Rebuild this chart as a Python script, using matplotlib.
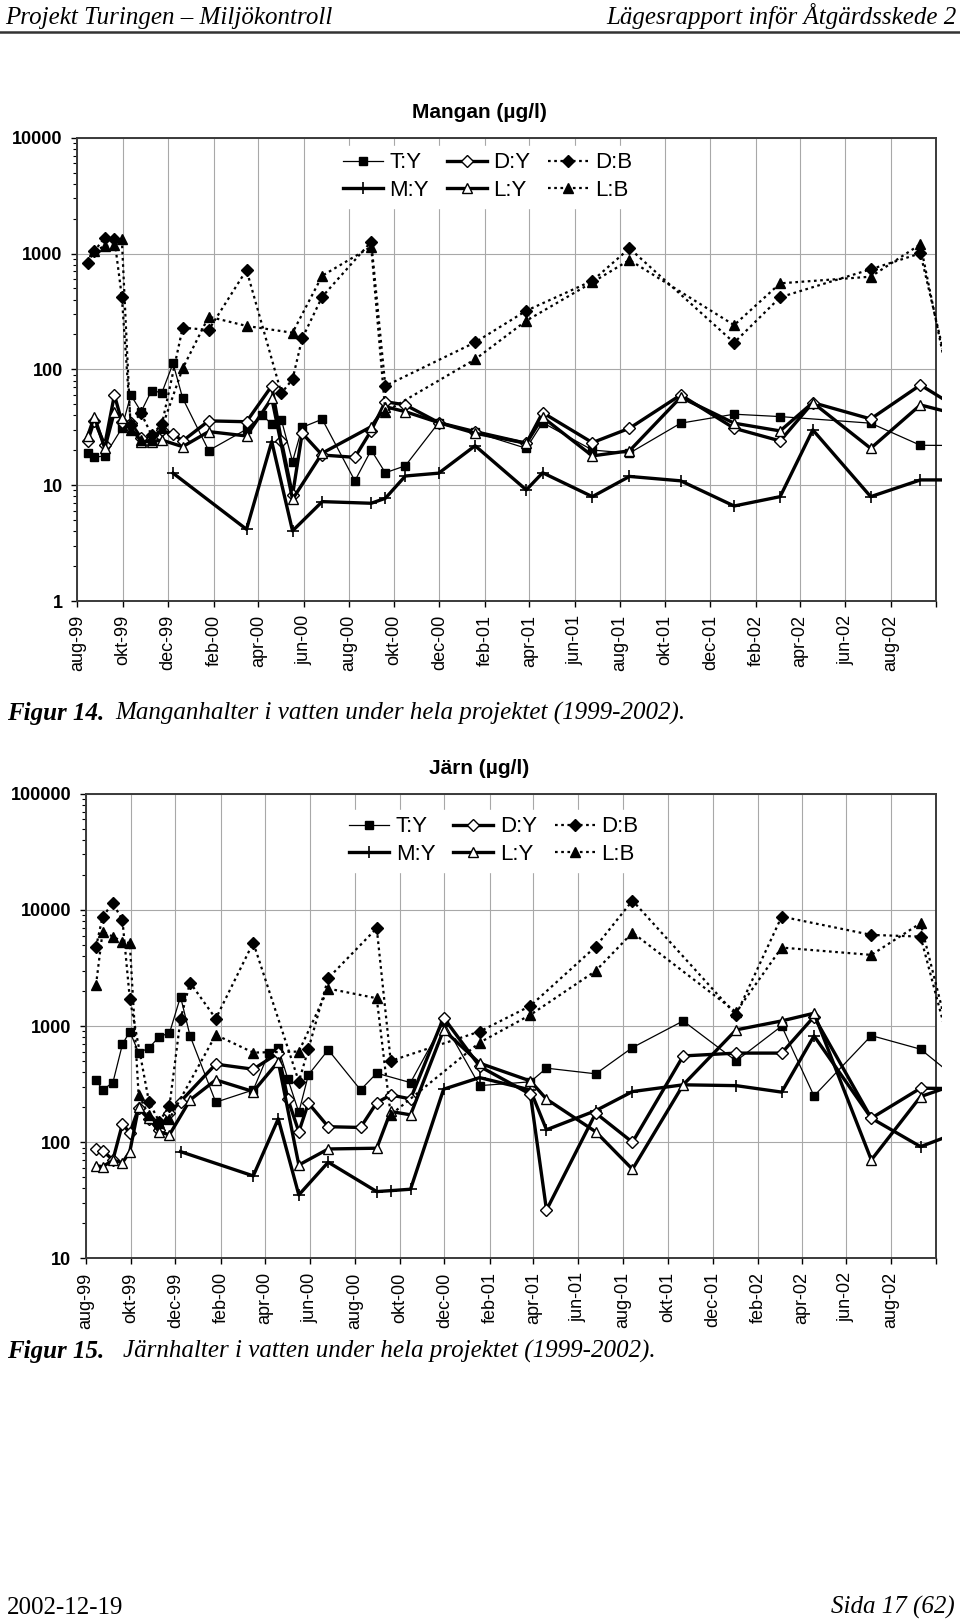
import datetime as dt
import matplotlib
matplotlib.use("Agg")
import matplotlib.pyplot as plt
import matplotlib.dates as mdates
from matplotlib.lines import Line2D
from matplotlib.ticker import FixedLocator, LogLocator, NullFormatter, FuncFormatter
from matplotlib.transforms import Bbox, TransformedBbox

W, H = 960, 1622

# provtagningsdatum (gemensamma för båda diagrammen)
datum = ['1999-08-15', '1999-08-24', '1999-09-07', '1999-09-20', '1999-09-30',
         '1999-10-12', '1999-10-26', '1999-11-09', '1999-11-23', '1999-12-08',
         '1999-12-21', '2000-01-25', '2000-03-16', '2000-04-06', '2000-04-19',
         '2000-05-02', '2000-05-17', '2000-05-30', '2000-06-26', '2000-08-09',
         '2000-08-31', '2000-09-19', '2000-10-16', '2000-11-30', '2001-01-18',
         '2001-03-28', '2001-04-19', '2001-06-25', '2001-08-14', '2001-10-22',
         '2002-01-02', '2002-03-05', '2002-04-18', '2002-07-05', '2002-09-10',
         '2002-11-01']

serier = ['T:Y', 'M:Y', 'D:Y', 'L:Y', 'D:B', 'L:B']

N = None
# Mangan (µg/l)
mn_TY = [19.1, 17.4, 17.9, N, 31.0, 60.1, 43.1, 65.5, 62.9, 112.7, 56.3, 19.9, 30.4, 40.4, 33.6,
         36.6, 16.0, 31.6, 37.1, 10.9, 20.1, 12.8, 14.7, 34.7, 28.6, 20.8, 34.7, 20.1, 18.9, 34.3,
         41.0, 39.1, N, 34.3, 22.1, 22.0]
mn_MY = [N, N, N, N, N, N, N, N, N, 12.7, N, N, 4.16, N, 23.8, N, 4.03, N, 7.21, N, 6.98, 7.7,
         12.0, 12.7, 21.9, 9.1, 12.8, 7.96, 11.9, 10.9, 6.61, 7.96, 30.0, 7.96, 11.1, 11.1]
mn_DY = [24.1, 36.1, 22.2, 60.1, 35.3, 34.5, 25.6, 25.1, 30.0, 27.7, 24.1, 35.9, 35.3, N, 71.9,
         24.1, 8.2, 28.1, 18.2, 17.4, 29.6, 52.6, 49.3, 34.7, 29.0, 23.0, 42.3, 23.3, 31.0, 60.1,
         31.0, 24.1, 51.6, 37.3, 73.3, 45.7]
mn_LY = [26.6, 39.1, 20.8, 43.1, 38.0, 32.0, 23.8, 23.8, 24.5, N, 21.5, 29.0, 26.6, N, 56.3,
         N, 7.56, N, 18.9, N, 32.0, 47.6, 43.1, 34.7, 28.1, 23.0, 38.6, 17.9, 19.8, 57.4,
         34.3, 29.4, 51.6, 20.8, 49.3, 40.5]
mn_DB = [833, 1051, 1368, 1334, 424, 33.1, 41.8, 27.2, 33.6, N, 229, 219, 721, N, N, 62.2,
         82.2, 185, 424, N, 1265, 71.9, N, N, 171, 321, N, 582, 1109, N, 170, 419, N, 731,
         1004, 38]
mn_LB = [N, 1051, 1161, 1182, 1334, 30, 24.5, 24.5, 31.4, N, 102, 285, 237, N, N, N, 207, N,
         643, N, 1145, 43.1, N, N, 122, 263, N, 564, 879, N, 241, 553, N, 631, 1201, 28.2]

# Järn (µg/l)
fe_TY = [344, 282, 326, 698, 897, 591, 645, 812, 869, 1791, 823, 221, 282, 585, 653, 351, 181,
         380, 624, 282, 393, N, 326, 1084, 307, 331, 434, 388, 653, 1107, 501, 1000, 250, 828,
         632, 342]
fe_MY = [N, N, N, N, N, N, N, N, N, 83, N, N, 51.3, N, 159, N, 35.2, N, 67.3, N, 37.6, 38.3,
         39.4, 286, 360, 282, 128, 187, 273, 312, 307, 270, 823, 161, 91.6, 122]
fe_DY = [87, 84.7, 70.4, 144, 120, 196, 158, 128, 178, 224, N, 470, 425, N, 585, 236, 123, 217,
         136, 134, 219, 255, 236, 1181, 450, 259, 26.1, 178, 100, 553, 585, 585, 1205, 161, 292,
         289]
fe_LY = [62.9, 61.5, 70, 66.7, 83, 200, 161, 123, 116, N, 231, 344, 273, N, 494, N, 63.7, N,
         87.5, N, 88.8, 184, 172, 927, 479, 337, 235, 123, 58.5, 312, 927, 1107, 1289, 70.4, 247,
         321]
fe_DB = [4775, 8750, 11420, 8150, 1722, N, 224, 150, 206, 1145, 2365, 1158, 5228, N, N, N, 333,
         632, 2582, N, 6955, 501, N, N, 897, 1490, N, 4831, 12030, N, 1247, 8750, N, 6090, 5889,
         334]
fe_LB = [2246, 6501, 5888, 5333, 5166, 255, 171, 146, 159, N, N, 840, 591, N, N, N, 603, N,
         2101, N, 1735, 172, N, N, 721, 1247, N, 2985, 6372, N, 1322, 4736, N, 4096, 7679, 380]

manader = ['aug-99', 'okt-99', 'dec-99', 'feb-00', 'apr-00', 'jun-00', 'aug-00', 'okt-00',
           'dec-00', 'feb-01', 'apr-01', 'jun-01', 'aug-01', 'okt-01', 'dec-01', 'feb-02',
           'apr-02', 'jun-02', 'aug-02', '']

SANS = 'Liberation Sans'
SERIF = 'Liberation Serif'
prick = (0, (1.2, 1.6))
stil = {
    'T:Y': dict(color='k', lw=0.9, marker='s', ms=5.5, mfc='k', mec='k'),
    'M:Y': dict(color='k', lw=2.4, marker='+', ms=9, mew=1.2, mec='k'),
    'D:Y': dict(color='k', lw=2.4, marker='D', ms=6.2, mfc='white', mec='k', mew=1),
    'L:Y': dict(color='k', lw=2.4, marker='^', ms=7.5, mfc='white', mec='k', mew=1),
    'D:B': dict(color='k', lw=1.6, ls=prick, marker='D', ms=6.2, mfc='k', mec='k'),
    'L:B': dict(color='k', lw=1.6, ls=prick, marker='^', ms=7.5, mfc='k', mec='k'),
}


def fx(px):
    return px / W


def fy(py):
    return 1 - py / H


def rita(ax, varden, ylim, leg_xy):
    x = [mdates.date2num(dt.date.fromisoformat(d)) for d in datum]
    bredd = ax.get_position().width * W
    klipp = TransformedBbox(Bbox([[0, 0], [1 + 5.5 / bredd, 1]]), ax.transAxes)
    for namn in serier:
        xs = [xi for xi, v in zip(x, varden[namn]) if v is not None]
        ys = [v for v in varden[namn] if v is not None]
        ln, = ax.plot(xs, ys, label=namn, zorder=3, **stil[namn])
        ln.set_clip_path(None)
        ln.set_clip_box(klipp)

    ax.set_yscale('log')
    ax.set_ylim(*ylim)
    ax.set_xlim(mdates.date2num(dt.date(1999, 8, 1)), mdates.date2num(dt.date(2002, 10, 1)))

    ticks = [mdates.date2num(dt.date(1999 + (7 + 2 * i) // 12, (7 + 2 * i) % 12 + 1, 1))
             for i in range(20)]
    ax.xaxis.set_major_locator(FixedLocator(ticks))
    ax.set_xticklabels(manader, rotation=90, fontsize=13, family=SANS)
    ax.yaxis.set_major_locator(LogLocator(base=10))
    ax.yaxis.set_minor_locator(LogLocator(base=10, subs=range(2, 10)))
    ax.yaxis.set_minor_formatter(NullFormatter())
    ax.yaxis.set_major_formatter(FuncFormatter(lambda v, p: '%d' % round(v)))
    for t in ax.get_yticklabels():
        t.set_fontweight('bold')
        t.set_family(SANS)
        t.set_fontsize(13)

    ax.tick_params(axis='x', length=4, width=1, pad=6, direction='out')
    ax.tick_params(axis='y', which='major', length=4.5, width=1, pad=6, direction='out',
                   labelsize=13)
    ax.tick_params(axis='y', which='minor', length=3, width=0.8, direction='out')
    ax.grid(True, which='major', color='#a8a8a8', lw=0.8)
    ax.set_axisbelow(True)
    for s in ax.spines.values():
        s.set_color('#3a3a3a')
        s.set_linewidth(1.4)

    h, l = ax.get_legend_handles_labels()
    leg = ax.legend(h, l, ncol=3, loc='center', bbox_to_anchor=leg_xy,
                    prop={'family': SANS, 'size': 16}, numpoints=1,
                    handlelength=1.8, handletextpad=0.3, columnspacing=0.8,
                    labelspacing=0.3, borderpad=0.3, frameon=True, fancybox=False,
                    framealpha=1, facecolor='white', edgecolor='white')
    leg.set_zorder(5)


fig = plt.figure(figsize=(W / 100, H / 100), dpi=100)

# sidhuvud
fig.text(fx(5), fy(24), 'Projekt Turingen – Miljökontroll', family=SERIF, style='italic',
         fontsize=18, va='baseline', ha='left')
fig.text(fx(957), fy(24), 'Lägesrapport inför Åtgärdsskede 2', family=SERIF, style='italic',
         fontsize=18, va='baseline', ha='right')
fig.add_artist(Line2D([0, 1], [fy(32), fy(32)], transform=fig.transFigure, color='#333333',
                      lw=1.8))

# Mangan
ax1 = fig.add_axes([fx(77.3), fy(601), fx(936 - 77.3), (601 - 137.7) / H])
rita(ax1, dict(zip(serier, [mn_TY, mn_MY, mn_DY, mn_LY, mn_DB, mn_LB])), (1, 10000),
     (0.4775, 0.916))
fig.text(fx(479), fy(112.7), 'Mangan (µg/l)', family=SANS, fontweight='bold', fontsize=15,
         ha='center', va='center')
fig.text(fx(7), fy(720), 'Figur 14.', family=SERIF, style='italic', fontweight='bold',
         fontsize=18, va='baseline')
fig.text(fx(115), fy(720), 'Manganhalter i vatten under hela projektet (1999-2002).',
         family=SERIF, style='italic', fontsize=18, va='baseline')

# Järn
ax2 = fig.add_axes([fx(85.7), fy(1258.4), fx(936 - 85.7), (1258.4 - 793.7) / H])
rita(ax2, dict(zip(serier, [fe_TY, fe_MY, fe_DY, fe_LY, fe_DB, fe_LB])), (10, 100000),
     (0.4800, 0.899))
fig.text(fx(479), fy(768), 'Järn (µg/l)', family=SANS, fontweight='bold', fontsize=15,
         ha='center', va='center')
fig.text(fx(7), fy(1358), 'Figur 15.', family=SERIF, style='italic', fontweight='bold',
         fontsize=18, va='baseline')
fig.text(fx(123), fy(1358), 'Järnhalter i vatten under hela projektet (1999-2002).',
         family=SERIF, style='italic', fontsize=18, va='baseline')

# sidfot
fig.text(fx(7), fy(1614), '2002-12-19', family=SERIF, fontsize=18, va='baseline')
fig.text(fx(955), fy(1614), 'Sida 17 (62)', family=SERIF, style='italic', fontsize=18,
         va='baseline', ha='right')

fig.savefig('out.png', dpi=100, facecolor='white')
